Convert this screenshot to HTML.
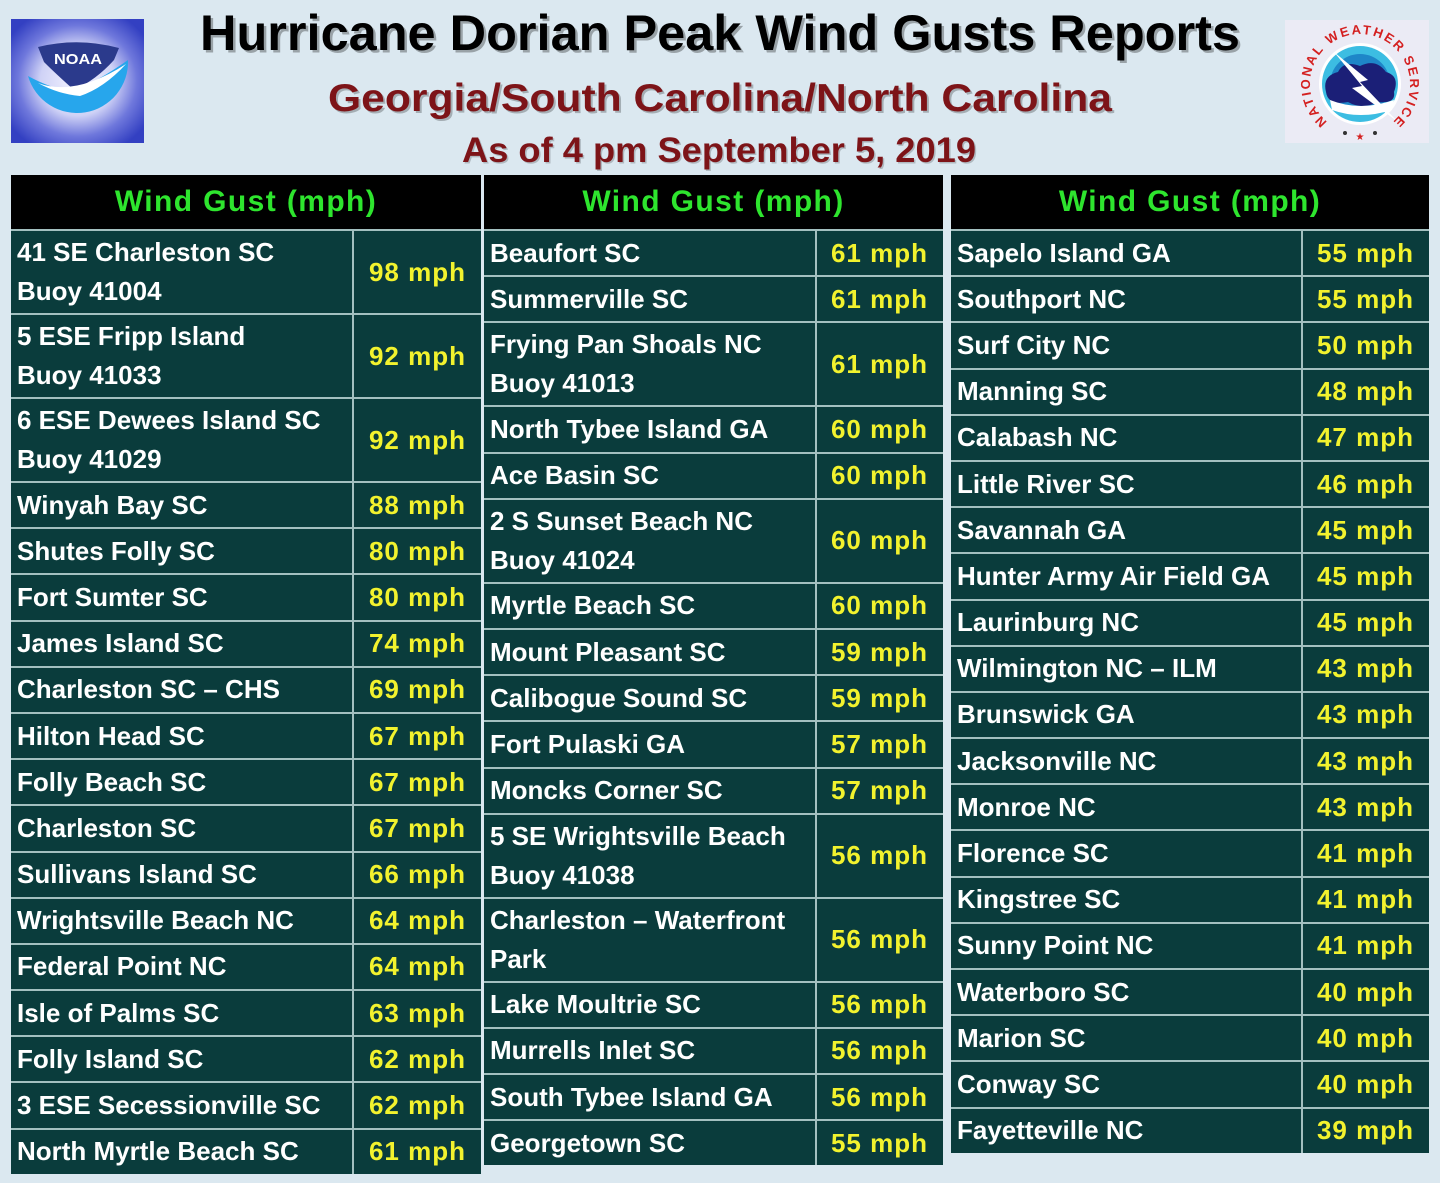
<!DOCTYPE html>
<html>
<head>
<meta charset="utf-8">
<style>
  html,body{margin:0;padding:0;}
  body{width:1440px;height:1183px;background:#dbe8f0;position:relative;overflow:hidden;font-family:"Liberation Sans",sans-serif;}
  .t{position:absolute;top:175px;background:#0a3c3c;}
  .h{height:54px;background:#000;color:#2ee52e;font-weight:bold;font-size:30px;letter-spacing:1.4px;text-align:center;line-height:54px;font-family:"Liberation Sans",sans-serif;}
  .r{display:flex;height:46.2px;border-top:2px solid #a3c0c0;box-sizing:border-box;}
  .r.d{height:84px;}
  .n{box-sizing:border-box;border-right:2px solid #a3c0c0;padding-left:6px;display:flex;align-items:center;color:#fff;font-weight:bold;font-size:26px;line-height:39px;letter-spacing:0px;white-space:nowrap;font-family:"Liberation Sans",sans-serif;}
  .v{flex:1;display:flex;align-items:center;justify-content:flex-end;padding-right:15px;color:#f2f22e;font-weight:bold;font-size:26px;letter-spacing:1px;white-space:nowrap;font-family:"Liberation Sans",sans-serif;}
  #t1{left:11px;width:470px;}
  #t1 .n{width:343px;}
  #t2{left:484px;width:459px;}
  #t2 .n{width:333px;}
  #t3{left:951px;width:478px;}
  #t3 .n{width:352px;}
</style>
</head>
<body>
<svg width="1440" height="175" style="position:absolute;left:0;top:0" xmlns="http://www.w3.org/2000/svg">
  <defs>
    <radialGradient id="nb" cx="50%" cy="50%" r="62%">
      <stop offset="0" stop-color="#f4f4ff"/>
      <stop offset="0.45" stop-color="#cfd2f6"/>
      <stop offset="0.72" stop-color="#6f78dc"/>
      <stop offset="1" stop-color="#3340c2"/>
    </radialGradient>
  </defs>
  <!-- NOAA logo -->
  <rect x="11" y="19" width="133" height="124" fill="url(#nb)"/>
  <path d="M128,60 Q100,80 72,92 Q50,88 28,76 A51,51 0 0 0 128,60 Z" fill="#27a6ec"/>
  <path d="M38,47 Q78,37 119,48 L114,60 Q96,80 74,90 Q56,74 44,62 Z" fill="#2b3a8c"/>
  <path d="M38,83 Q75,97 126,64 Q104,88 80,96 Q58,94 38,83 Z" fill="#ffffff"/>
  <text x="78" y="64" text-anchor="middle" font-family="Liberation Sans, sans-serif" font-weight="bold" font-size="15" fill="#ffffff" textLength="48" lengthAdjust="spacingAndGlyphs">NOAA</text>

  <!-- NWS logo -->
  <rect x="1285" y="20" width="144" height="123" fill="#ebebf5"/>
  <circle cx="1360" cy="84" r="41" fill="#ffffff"/>
  <circle cx="1360" cy="84" r="38" fill="#3cbde2"/>
  <circle cx="1360" cy="84" r="30" fill="#1e86c8"/>
  <path d="M1326,92 Q1322,76 1338,72 Q1344,60 1360,66 Q1376,58 1386,72 Q1400,76 1394,92 Q1396,104 1378,102 Q1362,110 1348,102 Q1328,106 1326,92 Z" fill="#1b1f77"/>
  <path d="M1330,100 Q1360,112 1394,100 L1392,110 Q1360,120 1332,110 Z" fill="#ffffff"/>
  <path d="M1334,52 L1368,80 L1360,82 L1398,122 L1352,88 L1362,86 Z" fill="#ffffff"/>
  <path id="nwsarc" d="M1331.3,125 A50,50 0 1 1 1388.7,125" fill="none"/>
  <text font-family="Liberation Sans, sans-serif" font-weight="bold" font-size="13" fill="#d42020"><textPath href="#nwsarc" startOffset="5" textLength="242" lengthAdjust="spacing">NATIONAL WEATHER SERVICE</textPath></text>
  <circle cx="1345" cy="133" r="2" fill="#333"/>
  <text x="1360" y="140" text-anchor="middle" font-family="DejaVu Sans, sans-serif" font-size="10" fill="#d42020">★</text>
  <circle cx="1375" cy="133" r="2" fill="#333"/>

  <!-- Titles (shadow copies then main) -->
  <g font-family="Liberation Sans, sans-serif" font-weight="bold">
    <text x="202.5" y="52.5" font-size="50" fill="#000" fill-opacity="0.3" textLength="1040" lengthAdjust="spacingAndGlyphs">Hurricane Dorian Peak Wind Gusts Reports</text>
    <text x="200" y="50" font-size="50" fill="#000" textLength="1040" lengthAdjust="spacingAndGlyphs">Hurricane Dorian Peak Wind Gusts Reports</text>
    <text x="330" y="113" font-size="39" fill="#000" fill-opacity="0.25" textLength="784" lengthAdjust="spacingAndGlyphs">Georgia/South  Carolina/North  Carolina</text>
    <text x="328" y="111" font-size="39" fill="#7d1418" textLength="784" lengthAdjust="spacingAndGlyphs">Georgia/South  Carolina/North  Carolina</text>
    <text x="463.5" y="163.5" font-size="35" fill="#000" fill-opacity="0.2" textLength="514" lengthAdjust="spacingAndGlyphs">As of 4 pm September 5, 2019</text>
    <text x="462" y="162" font-size="35" fill="#7d1418" textLength="514" lengthAdjust="spacingAndGlyphs">As of 4 pm September 5, 2019</text>
  </g>
</svg>

<div class="t" id="t1">
  <div class="h">Wind Gust (mph)</div>
  <div class="r d"><div class="n">41 SE Charleston SC<br>Buoy 41004</div><div class="v">98 mph</div></div>
  <div class="r d"><div class="n">5 ESE Fripp Island<br>Buoy 41033</div><div class="v">92 mph</div></div>
  <div class="r d"><div class="n">6 ESE Dewees Island SC<br>Buoy 41029</div><div class="v">92 mph</div></div>
  <div class="r"><div class="n">Winyah Bay SC</div><div class="v">88 mph</div></div>
  <div class="r"><div class="n">Shutes Folly SC</div><div class="v">80 mph</div></div>
  <div class="r"><div class="n">Fort Sumter SC</div><div class="v">80 mph</div></div>
  <div class="r"><div class="n">James Island SC</div><div class="v">74 mph</div></div>
  <div class="r"><div class="n">Charleston SC – CHS</div><div class="v">69 mph</div></div>
  <div class="r"><div class="n">Hilton Head SC</div><div class="v">67 mph</div></div>
  <div class="r"><div class="n">Folly Beach SC</div><div class="v">67 mph</div></div>
  <div class="r"><div class="n">Charleston SC</div><div class="v">67 mph</div></div>
  <div class="r"><div class="n">Sullivans Island SC</div><div class="v">66 mph</div></div>
  <div class="r"><div class="n">Wrightsville Beach NC</div><div class="v">64 mph</div></div>
  <div class="r"><div class="n">Federal Point NC</div><div class="v">64 mph</div></div>
  <div class="r"><div class="n">Isle of Palms SC</div><div class="v">63 mph</div></div>
  <div class="r"><div class="n">Folly Island SC</div><div class="v">62 mph</div></div>
  <div class="r"><div class="n">3 ESE Secessionville SC</div><div class="v">62 mph</div></div>
  <div class="r"><div class="n">North Myrtle Beach SC</div><div class="v">61 mph</div></div>
</div>

<div class="t" id="t2">
  <div class="h">Wind Gust (mph)</div>
  <div class="r"><div class="n">Beaufort SC</div><div class="v">61 mph</div></div>
  <div class="r"><div class="n">Summerville SC</div><div class="v">61 mph</div></div>
  <div class="r d"><div class="n">Frying Pan Shoals NC<br>Buoy 41013</div><div class="v">61 mph</div></div>
  <div class="r"><div class="n">North Tybee Island GA</div><div class="v">60 mph</div></div>
  <div class="r"><div class="n">Ace Basin SC</div><div class="v">60 mph</div></div>
  <div class="r d"><div class="n">2 S Sunset Beach NC<br>Buoy 41024</div><div class="v">60 mph</div></div>
  <div class="r"><div class="n">Myrtle Beach SC</div><div class="v">60 mph</div></div>
  <div class="r"><div class="n">Mount Pleasant SC</div><div class="v">59 mph</div></div>
  <div class="r"><div class="n">Calibogue Sound SC</div><div class="v">59 mph</div></div>
  <div class="r"><div class="n">Fort Pulaski GA</div><div class="v">57 mph</div></div>
  <div class="r"><div class="n">Moncks Corner SC</div><div class="v">57 mph</div></div>
  <div class="r d"><div class="n">5 SE Wrightsville Beach<br>Buoy 41038</div><div class="v">56 mph</div></div>
  <div class="r d"><div class="n">Charleston – Waterfront<br>Park</div><div class="v">56 mph</div></div>
  <div class="r"><div class="n">Lake Moultrie SC</div><div class="v">56 mph</div></div>
  <div class="r"><div class="n">Murrells Inlet SC</div><div class="v">56 mph</div></div>
  <div class="r"><div class="n">South Tybee Island GA</div><div class="v">56 mph</div></div>
  <div class="r"><div class="n">Georgetown SC</div><div class="v">55 mph</div></div>
</div>

<div class="t" id="t3">
  <div class="h">Wind Gust (mph)</div>
  <div class="r"><div class="n">Sapelo Island GA</div><div class="v">55 mph</div></div>
  <div class="r"><div class="n">Southport NC</div><div class="v">55 mph</div></div>
  <div class="r"><div class="n">Surf City NC</div><div class="v">50 mph</div></div>
  <div class="r"><div class="n">Manning SC</div><div class="v">48 mph</div></div>
  <div class="r"><div class="n">Calabash NC</div><div class="v">47 mph</div></div>
  <div class="r"><div class="n">Little River SC</div><div class="v">46 mph</div></div>
  <div class="r"><div class="n">Savannah GA</div><div class="v">45 mph</div></div>
  <div class="r"><div class="n">Hunter Army Air Field GA</div><div class="v">45 mph</div></div>
  <div class="r"><div class="n">Laurinburg NC</div><div class="v">45 mph</div></div>
  <div class="r"><div class="n">Wilmington NC – ILM</div><div class="v">43 mph</div></div>
  <div class="r"><div class="n">Brunswick GA</div><div class="v">43 mph</div></div>
  <div class="r"><div class="n">Jacksonville NC</div><div class="v">43 mph</div></div>
  <div class="r"><div class="n">Monroe NC</div><div class="v">43 mph</div></div>
  <div class="r"><div class="n">Florence SC</div><div class="v">41 mph</div></div>
  <div class="r"><div class="n">Kingstree SC</div><div class="v">41 mph</div></div>
  <div class="r"><div class="n">Sunny Point NC</div><div class="v">41 mph</div></div>
  <div class="r"><div class="n">Waterboro SC</div><div class="v">40 mph</div></div>
  <div class="r"><div class="n">Marion SC</div><div class="v">40 mph</div></div>
  <div class="r"><div class="n">Conway SC</div><div class="v">40 mph</div></div>
  <div class="r"><div class="n">Fayetteville NC</div><div class="v">39 mph</div></div>
</div>
</body>
</html>
